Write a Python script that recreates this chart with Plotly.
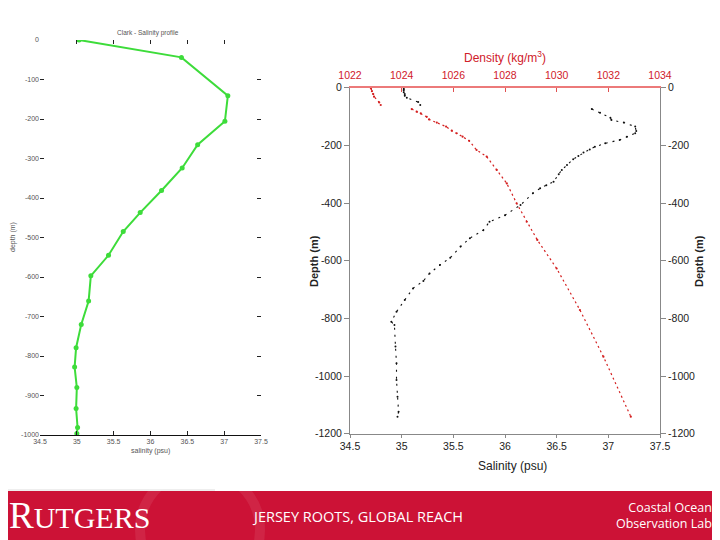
import plotly.graph_objects as go

# ---------------- data ----------------
# Left panel: cast salinity profile (green)
cast_salinity = [35.03, 36.42, 37.05, 37.01, 36.64, 36.43, 36.15, 35.86, 35.63, 35.43,
                 35.19, 35.16, 35.06, 34.99, 34.97, 35.00, 34.99, 35.01, 35.00]
cast_depth = [0, -44, -141, -206, -265, -324, -381, -437, -485, -545,
              -597, -661, -720, -779, -828, -880, -933, -981, -996]

# Right panel: glider salinity (black) – None separates the surface segment
glider_salinity = [35.02, 35.02, 35.02, 35.02, 35.03, 35.03, 35.05, 35.16, 35.18, None,
                   36.84, 36.92, 37.02, 37.03, 37.15, 37.26, 37.27, 37.26, 37.18, 37.11,
                   36.97, 36.87, 36.82, 36.76, 36.71, 36.66, 36.60, 36.55, 36.52, 36.47,
                   36.40, 36.34, 36.27, 36.15, 36.00, 35.85, 35.79, 35.66, 35.57, 35.47,
                   35.37, 35.27, 35.21, 35.11, 35.03, 34.95, 34.90, 34.93, 34.94, 34.95,
                   34.95, 34.96, 34.97, 34.96]
glider_sal_depth = [0, -5, -10, -16, -22, -28, -35, -50, -60, None,
                    -74, -87, -104, -112, -121, -135, -150, -158, -170, -181,
                    -193, -205, -214, -225, -237, -248, -268, -285, -300, -326,
                    -338, -349, -366, -407, -442, -465, -494, -522, -551, -590,
                    -615, -644, -670, -696, -736, -777, -812, -823, -898, -956,
                    -1014, -1072, -1124, -1141]

# Right panel: glider density (red)
glider_density = [1022.81, 1022.85, 1022.90, 1022.93, 1023.13, 1023.19, None,
                  1024.39, 1024.58, 1024.74, 1024.97, 1025.06, 1025.36, 1025.72, 1025.94,
                  1026.13, 1026.36, 1026.61, 1026.90, 1027.29, 1027.68, 1028.07, 1028.45,
                  1028.84, 1029.25, 1030.00, 1030.90, 1031.81, 1032.87]
glider_den_depth = [-2, -12, -22, -31, -51, -60, None,
                    -74, -83, -89, -101, -110, -121, -135, -149,
                    -158, -170, -184, -216, -239, -285, -332, -401,
                    -465, -528, -627, -771, -933, -1141]

sal_ticks = [34.5, 35, 35.5, 36, 36.5, 37, 37.5]
sal_ticktext = ['34.5', '35', '35.5', '36', '36.5', '37', '37.5']
den_ticks = [1022, 1024, 1026, 1028, 1030, 1032, 1034]
left_depth_ticks = [0, -100, -200, -300, -400, -500, -600, -700, -800, -900, -1000]
left_depth_text = ['0', '-100', '-200', '-300', '-400', '-500', '-600', '-700', '-800',
                   '-900', '-1000']
right_depth_ticks = [0, -200, -400, -600, -800, -1000, -1200]
right_depth_text = ['0', '-200', '-400', '-600', '-800', '-1000', '-1200']

W, H = 720, 540
OFF = 8  # page body margin offset in the browser
def px(x): return (x - OFF) / W
def py(y): return 1 - (y - OFF) / H

SANS = "Liberation Sans, Arial, sans-serif"
fig = go.Figure()

fig.add_trace(go.Scatter(x=cast_salinity, y=cast_depth, mode='lines+markers',
                         line=dict(color='#3ddc3a', width=2),
                         marker=dict(color='#3ddc3a', size=5, symbol='circle'),
                         xaxis='x', yaxis='y', showlegend=False))
# empty trace so the top tick-only axis of the left panel is drawn
fig.add_trace(go.Scatter(x=[], y=[], xaxis='x4', yaxis='y', showlegend=False))

fig.add_trace(go.Scatter(x=glider_density, y=glider_den_depth, mode='lines+markers',
                         line=dict(color='#d42020', width=1.2, dash='2px,3px'),
                         marker=dict(color='#d42020', size=2.2),
                         connectgaps=False,
                         xaxis='x3', yaxis='y2', showlegend=False))

fig.add_trace(go.Scatter(x=glider_salinity, y=glider_sal_depth, mode='lines+markers',
                         line=dict(color='#111111', width=1.1, dash='2px,5px'),
                         marker=dict(color='#111111', size=2.0),
                         connectgaps=False,
                         xaxis='x2', yaxis='y2', showlegend=False))

fig.add_trace(go.Scatter(x=[], y=[], xaxis='x2', yaxis='y3', showlegend=False))

small = dict(family=SANS, size=7, color='#555555')
mid = dict(family=SANS, size=10.5, color='#222222')

fig.update_layout(
    width=W, height=H, margin=dict(l=0, r=0, t=0, b=0, autoexpand=False),
    paper_bgcolor='white', plot_bgcolor='white',
    xaxis=dict(domain=[px(40), px(261)], anchor='y', range=[34.5, 37.5],
               tickvals=sal_ticks, ticktext=sal_ticktext, ticks='inside', ticklen=4,
               tickcolor='#222', showline=True, linecolor='#111', linewidth=1,
               tickfont=small, showgrid=False, zeroline=False, automargin=False),
    xaxis4=dict(overlaying='x', side='top', anchor='y', range=[34.5, 37.5],
                tickvals=sal_ticks, ticks='inside', ticklen=4, tickcolor='#222',
                showticklabels=False, showline=False, showgrid=False, zeroline=False,
                automargin=False),
    yaxis=dict(domain=[py(435), py(40)], anchor='x', range=[-1000, 0],
               tickvals=left_depth_ticks, ticktext=left_depth_text, ticks='inside',
               ticklen=4, tickcolor='#222', mirror='ticks', showline=False,
               tickfont=small, showgrid=False, zeroline=False, automargin=False),
    xaxis2=dict(domain=[px(350), px(660)], anchor='y2', range=[34.5, 37.5],
                tickvals=sal_ticks, ticktext=sal_ticktext, ticks='outside', ticklen=3,
                tickcolor='#888', showline=True, linecolor='#888', linewidth=1,
                tickfont=mid, showgrid=False, zeroline=False, automargin=False),
    xaxis3=dict(overlaying='x2', side='top', anchor='y2', range=[1022, 1034],
                tickvals=den_ticks, ticks='inside', ticklen=4, tickcolor='#e05050',
                showline=True, linecolor='#ec7a7a', linewidth=2, ticklabelstandoff=3,
                tickfont=dict(family=SANS, size=10.5, color='#d0202a'),
                showgrid=False, zeroline=False, automargin=False),
    yaxis2=dict(domain=[py(433.7), py(87.7)], anchor='x2', range=[-1200, 0],
                tickvals=right_depth_ticks, ticktext=right_depth_text, ticks='outside',
                ticklen=5, tickcolor='#888', showline=True, linecolor='#888', linewidth=1,
                tickfont=mid, showgrid=False, zeroline=False, automargin=False),
    yaxis3=dict(overlaying='y2', side='right', anchor='x2', range=[-1200, 0],
                tickvals=right_depth_ticks, ticktext=right_depth_text, ticks='outside',
                ticklen=5, tickcolor='#888', showline=True, linecolor='#888', linewidth=1,
                tickfont=mid, showgrid=False, zeroline=False, automargin=False),
)

ann = []
ann.append(dict(x=px(148), y=py(33), text='Clark - Salinity profile',
                font=dict(family=SANS, size=6.5, color='#555')))
ann.append(dict(x=px(150), y=py(451), text='salinity (psu)',
                font=dict(family=SANS, size=7, color='#555')))
ann.append(dict(x=px(13), y=py(237), text='depth (m)', textangle=-90,
                font=dict(family=SANS, size=7, color='#555')))
ann.append(dict(x=px(513), y=py(466), text='Salinity (psu)',
                font=dict(family=SANS, size=12, color='#222')))
ann.append(dict(x=px(505), y=py(57), text='Density (kg/m<sup>3</sup>)',
                font=dict(family=SANS, size=12, color='#d0202a')))
for xx in (314, 699):
    ann.append(dict(x=px(xx), y=py(261), text='<b>Depth (m)</b>', textangle=-90,
                    font=dict(family=SANS, size=11, color='#222')))

# banner
ann.append(dict(x=px(7), y=py(515), xanchor='left',
                text="<span style='font-size:37px'>R</span>UTGERS",
                font=dict(family='Liberation Serif, DejaVu Serif, serif', size=30, color='white')))
ann.append(dict(x=px(357), y=py(516), text='JERSEY ROOTS, GLOBAL REACH',
                font=dict(family='Open Sans, sans-serif', size=14.5, color='white')))
ann.append(dict(x=px(714), y=py(515), xanchor='right', align='right',
                text='Coastal Ocean<br>Observation Lab',
                font=dict(family='Open Sans, sans-serif', size=12.5, color='white')))
for a in ann:
    a['xref'] = 'paper'
    a['yref'] = 'paper'
    a['showarrow'] = False
    a.setdefault('xanchor', 'center')
    a['yanchor'] = 'middle'

fig.update_layout(annotations=ann, shapes=[
    dict(type='rect', xref='paper', yref='paper', x0=-0.05, x1=1.05, y0=-0.05, y1=py(491),
         fillcolor='#cc1236', line=dict(width=0), layer='below'),
    dict(type='line', xref='paper', yref='paper', x0=0, x1=px(215), y0=py(490), y1=py(490),
         line=dict(color='#dddddd', width=1)),
    dict(type='circle', xref='paper', yref='paper', x0=px(140), x1=px(260), y0=py(590), y1=py(470),
         line=dict(color='rgba(255,255,255,0.08)', width=10)),
])

fig.write_html("out.html")
